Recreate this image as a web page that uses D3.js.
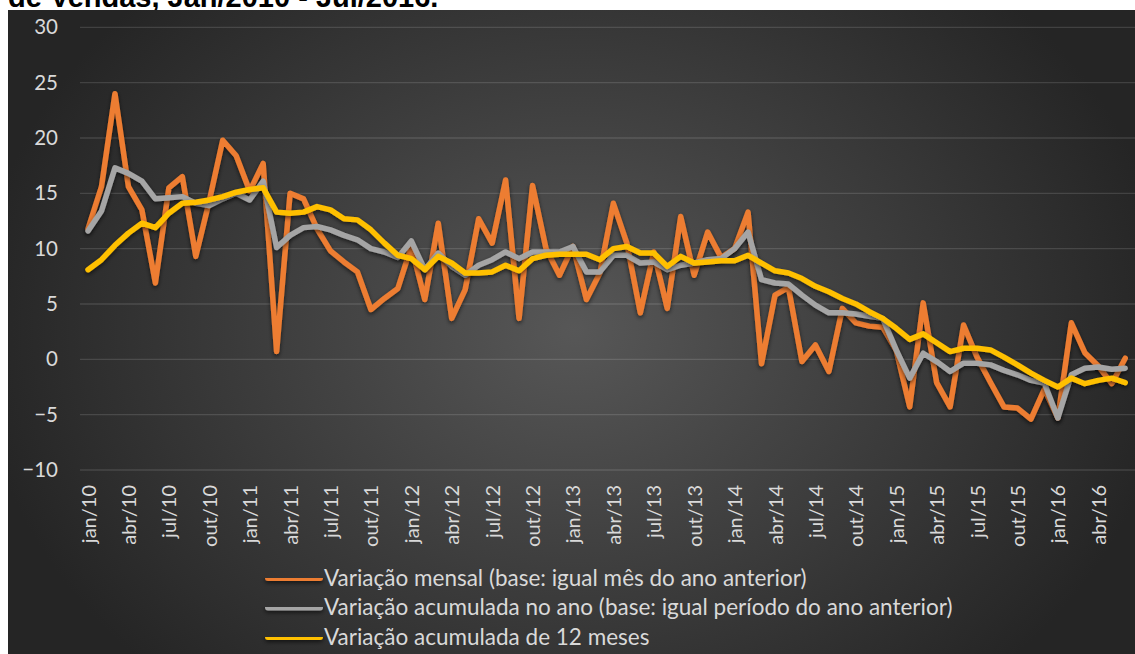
<!DOCTYPE html>
<html>
<head>
<meta charset="utf-8">
<script src="https://cdn.jsdelivr.net/npm/d3@7"></script>
<style>
  body { margin: 0; background: #fff; }
  svg { display: block; }
</style>
</head>
<body>
<div id="viz"></div>
<script>
var width = 1135;
var height = 654;

// categorias: jan/10 .. jul/16
var monthNames = ["jan", "fev", "mar", "abr", "mai", "jun", "jul", "ago", "set", "out", "nov", "dez"];
var years = ["10", "11", "12", "13", "14", "15", "16"];
var months = [];
years.forEach(function(y) {
  monthNames.forEach(function(m) { months.push(m + "/" + y); });
});
months = months.slice(0, 79);

var yTicks = [30, 25, 20, 15, 10, 5, 0, -5, -10];

var mensal = [
  11.8, 15.6, 24.0, 15.6, 13.5, 6.9, 15.5, 16.5, 9.3, 14.3, 19.8, 18.4,
  15.2, 17.7, 0.7, 15.0, 14.5, 11.8, 9.8, 8.8, 7.9, 4.5, 5.5, 6.4,
  10.2, 5.4, 12.3, 3.7, 6.3, 12.7, 10.5, 16.2, 3.7, 15.7, 10.0, 7.6,
  10.2, 5.4, 7.8, 14.1, 10.5, 4.2, 9.7, 4.6, 12.9, 7.6, 11.5, 9.2,
  10.0, 13.3, -0.4, 5.8, 6.5, -0.2, 1.3, -1.1, 4.6, 3.3, 3.0, 2.9,
  0.8, -4.3, 5.1, -2.1, -4.3, 3.1, 0.2, -2.1, -4.3, -4.4, -5.4, -2.7,
  -5.3, 3.3, 0.6, -0.6, -2.2, 0.1
];

var acumAno = [
  11.6, 13.4, 17.3, 16.8, 16.1, 14.5, 14.6, 14.7, 14.1, 13.9, 14.5, 15.0,
  14.4, 16.1, 10.1, 11.2, 11.9, 12.0, 11.7, 11.2, 10.8, 10.0, 9.7, 9.2,
  10.7, 8.1, 9.6, 8.4, 7.6, 8.5, 9.0, 9.7, 9.1, 9.7, 9.7, 9.7,
  10.2, 7.9, 7.9, 9.4, 9.4, 8.7, 8.8, 8.1, 8.5, 8.7, 9.0, 9.1,
  10.0, 11.5, 7.2, 6.9, 6.8, 5.8, 4.9, 4.2, 4.2, 4.1, 3.9, 3.7,
  0.85, -1.7, 0.55, -0.2, -1.1, -0.35, -0.35, -0.5, -1.0, -1.4, -1.9, -2.15,
  -5.3, -1.4, -0.8, -0.7, -0.9, -0.8
];

var acum12 = [
  8.1, 9.0, 10.3, 11.4, 12.3, 11.9, 13.2, 14.1, 14.2, 14.4, 14.7, 15.1,
  15.35, 15.5, 13.3, 13.2, 13.3, 13.8, 13.5, 12.7, 12.6, 11.7, 10.5, 9.4,
  9.1, 8.1, 9.3, 8.7, 7.8, 7.8, 7.9, 8.5, 8.0, 9.1, 9.4, 9.5,
  9.5, 9.5, 9.0, 10.0, 10.2, 9.6, 9.6, 8.4, 9.3, 8.7, 8.8, 8.9,
  8.9, 9.4, 8.7, 8.0, 7.8, 7.3, 6.6, 6.1, 5.5, 5.0, 4.3, 3.7,
  2.8, 1.8, 2.3, 1.5, 0.7, 1.0, 1.0, 0.85, 0.2, -0.5, -1.25, -1.9,
  -2.5, -1.7, -2.2, -1.9, -1.7, -2.1
];

var seriesNames = [
  "Variação mensal (base: igual mês do ano anterior)",
  "Variação acumulada no ano (base: igual período do ano anterior)",
  "Variação acumulada de 12 meses"
];
var seriesColors = ["#ED7D31", "#A5A5A5", "#FFC000"];
var seriesData = [mensal, acumAno, acum12];

var svg = d3.select("#viz")
    .append("svg")
    .attr("width", width)
    .attr("height", height);

var defs = svg.append("defs");

var grad = defs.append("radialGradient")
    .attr("id", "bg")
    .attr("gradientUnits", "userSpaceOnUse")
    .attr("cx", 575).attr("cy", 330).attr("r", 600)
    .attr("gradientTransform", "translate(575,330) scale(1,0.8) translate(-575,-330)");
grad.append("stop").attr("offset", "0%").attr("stop-color", "#575757");
grad.append("stop").attr("offset", "100%").attr("stop-color", "#252525");

var shadow = defs.append("filter")
    .attr("id", "shadow")
    .attr("filterUnits", "userSpaceOnUse")
    .attr("x", 0).attr("y", 0)
    .attr("width", width).attr("height", height);
shadow.append("feDropShadow")
    .attr("dx", 0).attr("dy", 2)
    .attr("stdDeviation", 2)
    .attr("flood-color", "#000")
    .attr("flood-opacity", 0.6);

// titulo (cortado no topo, como na imagem original)
svg.append("text")
    .attr("x", 8)
    .attr("y", 7)
    .attr("font-family", "Liberation Sans, Arial, sans-serif")
    .attr("font-weight", "bold")
    .attr("font-size", 29)
    .attr("fill", "#000")
    .text("de Vendas, Jan/2010 - Jul/2016.");

svg.append("rect")
    .attr("x", 8).attr("y", 10)
    .attr("width", width - 8).attr("height", height - 10)
    .attr("fill", "url(#bg)");

var x = d3.scalePoint()
    .domain(months)
    .range([81.3, 81.3 + 79 * 13.47])
    .padding(0.5);

var y = d3.scaleLinear()
    .domain([-10, 30])
    .range([470, 27.3]);

// grade
svg.append("g")
    .selectAll("line")
    .data(yTicks)
    .enter()
    .append("line")
    .attr("x1", 80)
    .attr("x2", width)
    .attr("y1", function(d) { return y(d); })
    .attr("y2", function(d) { return y(d); })
    .attr("stroke", "rgba(255,255,255,0.13)")
    .attr("stroke-width", 1.3);

// eixo y
var yAxis = svg.append("g")
    .attr("transform", "translate(58,0)")
    .call(d3.axisLeft(y).tickValues(yTicks).tickSize(0).tickPadding(0));
yAxis.select(".domain").remove();
yAxis.selectAll("text")
    .attr("font-family", "Lato, sans-serif")
    .attr("font-size", 20.5)
    .attr("fill", "#d9d9d9");

// eixo x (jul/16 fica fora da imagem)
var xAxis = svg.append("g")
    .attr("transform", "translate(0,485)")
    .call(d3.axisBottom(x)
      .tickValues(months.filter(function(d, i) { return i % 3 === 0 && i < mensal.length; }))
      .tickSize(0));
xAxis.select(".domain").remove();
xAxis.selectAll("text")
    .attr("font-family", "Lato, sans-serif")
    .attr("font-size", 20)
    .attr("fill", "#d9d9d9")
    .attr("text-anchor", "end")
    .attr("transform", "rotate(-90)")
    .attr("x", 0)
    .attr("y", 0)
    .attr("dy", "0.35em");

// linhas
var line = d3.line()
    .x(function(d, i) { return x(months[i]); })
    .y(function(d) { return y(d); });

svg.append("g")
    .selectAll("path")
    .data(seriesData)
    .enter()
    .append("path")
    .attr("d", line)
    .attr("fill", "none")
    .attr("stroke", function(d, i) { return seriesColors[i]; })
    .attr("stroke-width", 5.5)
    .attr("stroke-linejoin", "round")
    .attr("stroke-linecap", "round")
    .attr("filter", "url(#shadow)");

// legenda
var legend = svg.append("g")
    .selectAll("g")
    .data(seriesNames)
    .enter()
    .append("g")
    .attr("transform", function(d, i) { return "translate(0," + (578 + i * 29.5) + ")"; });

legend.append("line")
    .attr("x1", 268).attr("x2", 320)
    .attr("y1", 0).attr("y2", 0)
    .attr("stroke", function(d, i) { return seriesColors[i]; })
    .attr("stroke-width", 6)
    .attr("stroke-linecap", "round")
    .attr("filter", "url(#shadow)");

legend.append("text")
    .attr("x", 324)
    .attr("dy", "0.35em")
    .attr("font-family", "Lato, sans-serif")
    .attr("font-size", 22.5)
    .attr("fill", "#d9d9d9")
    .text(function(d) { return d; });
</script>
</body>
</html>
